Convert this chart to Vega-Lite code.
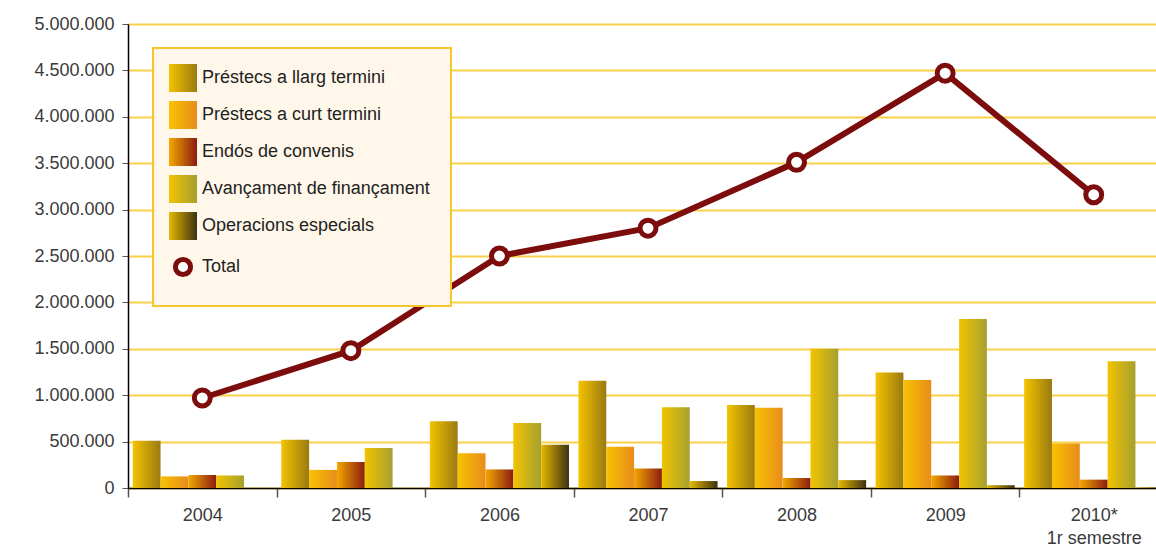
{
  "$schema": "https://vega.github.io/schema/vega-lite/v6.json",
  "width": 1028,
  "height": 464,
  "autosize": "none",
  "padding": {"left": 128, "top": 24, "right": 0, "bottom": 60},
  "background": "white",
  "config": {"view": {"stroke": null}, "font": "Liberation Sans"},
  "data": {"values": [
    {"year": "2004", "serie": "Préstecs a llarg termini", "value": 510000},
    {"year": "2004", "serie": "Préstecs a curt termini", "value": 125000},
    {"year": "2004", "serie": "Endós de convenis", "value": 140000},
    {"year": "2004", "serie": "Avançament de finançament", "value": 135000},
    {"year": "2004", "serie": "Total", "value": 970000},
    {"year": "2005", "serie": "Préstecs a llarg termini", "value": 520000},
    {"year": "2005", "serie": "Préstecs a curt termini", "value": 195000},
    {"year": "2005", "serie": "Endós de convenis", "value": 280000},
    {"year": "2005", "serie": "Avançament de finançament", "value": 430000},
    {"year": "2005", "serie": "Total", "value": 1480000},
    {"year": "2006", "serie": "Préstecs a llarg termini", "value": 720000},
    {"year": "2006", "serie": "Préstecs a curt termini", "value": 375000},
    {"year": "2006", "serie": "Endós de convenis", "value": 200000},
    {"year": "2006", "serie": "Avançament de finançament", "value": 700000},
    {"year": "2006", "serie": "Operacions especials", "value": 465000},
    {"year": "2006", "serie": "Total", "value": 2500000},
    {"year": "2007", "serie": "Préstecs a llarg termini", "value": 1155000},
    {"year": "2007", "serie": "Préstecs a curt termini", "value": 445000},
    {"year": "2007", "serie": "Endós de convenis", "value": 210000},
    {"year": "2007", "serie": "Avançament de finançament", "value": 870000},
    {"year": "2007", "serie": "Operacions especials", "value": 75000},
    {"year": "2007", "serie": "Total", "value": 2800000},
    {"year": "2008", "serie": "Préstecs a llarg termini", "value": 895000},
    {"year": "2008", "serie": "Préstecs a curt termini", "value": 865000},
    {"year": "2008", "serie": "Endós de convenis", "value": 108000},
    {"year": "2008", "serie": "Avançament de finançament", "value": 1500000},
    {"year": "2008", "serie": "Operacions especials", "value": 85000},
    {"year": "2008", "serie": "Total", "value": 3510000},
    {"year": "2009", "serie": "Préstecs a llarg termini", "value": 1245000},
    {"year": "2009", "serie": "Préstecs a curt termini", "value": 1165000},
    {"year": "2009", "serie": "Endós de convenis", "value": 135000},
    {"year": "2009", "serie": "Avançament de finançament", "value": 1820000},
    {"year": "2009", "serie": "Operacions especials", "value": 30000},
    {"year": "2009", "serie": "Total", "value": 4470000},
    {"year": "2010*", "serie": "Préstecs a llarg termini", "value": 1175000},
    {"year": "2010*", "serie": "Préstecs a curt termini", "value": 480000},
    {"year": "2010*", "serie": "Endós de convenis", "value": 90000},
    {"year": "2010*", "serie": "Avançament de finançament", "value": 1365000},
    {"year": "2010*", "serie": "Operacions especials", "value": 5000},
    {"year": "2010*", "serie": "Total", "value": 3160000}
  ]},
  "encoding": {
    "x": {
      "field": "year", "type": "nominal", "title": null,
      "scale": {"range": [0, 1040], "paddingInner": 0, "paddingOuter": 0},
      "axis": {
        "ticks": true, "tickBand": "extent", "tickSize": 9, "tickColor": "#555555", "tickWidth": 1.5,
        "domainColor": "#000000", "domainWidth": 1.5,
        "labelFontSize": 18, "labelColor": "#3a3a3a", "labelPadding": 9,
        "labelAngle": 0, "labelLineHeight": 23,
        "labelExpr": "datum.label == '2010*' ? ['2010*', '1r semestre'] : datum.label"
      }
    },
    "y": {
      "field": "value", "type": "quantitative", "title": null,
      "scale": {"domain": [0, 5000000], "nice": false},
      "axis": {
        "values": [0, 500000, 1000000, 1500000, 2000000, 2500000, 3000000, 3500000, 4000000, 4500000, 5000000],
        "labelExpr": "replace(replace(format(datum.value, ','), ',', '.'), ',', '.')",
        "labelFontSize": 18, "labelColor": "#3a3a3a", "labelPadding": 8,
        "tickSize": 6, "tickColor": "#555555",
        "domainColor": "#000000", "domainWidth": 1.5,
        "grid": true, "gridColor": "#FAD048", "gridWidth": 2
      }
    }
  },
  "layer": [
    {
      "transform": [{"filter": "datum.serie == 'Préstecs a llarg termini'"}],
      "mark": {"type": "bar", "color": {"gradient": "linear", "x1": 0, "y1": 0, "x2": 1, "y2": 0, "stops": [{"offset": 0, "color": "#F4C300"}, {"offset": 1, "color": "#9A7A12"}]}},
      "encoding": {"xOffset": {"field": "serie", "type": "nominal", "scale": {"domain": ["Préstecs a llarg termini", "Préstecs a curt termini", "Endós de convenis", "Avançament de finançament", "Operacions especials"], "paddingInner": 0, "paddingOuter": 0.17}}}
    },
    {
      "transform": [{"filter": "datum.serie == 'Préstecs a curt termini'"}],
      "mark": {"type": "bar", "color": {"gradient": "linear", "x1": 0, "y1": 0, "x2": 1, "y2": 0, "stops": [{"offset": 0, "color": "#F8C200"}, {"offset": 1, "color": "#E88C1C"}]}},
      "encoding": {"xOffset": {"field": "serie", "type": "nominal"}}
    },
    {
      "transform": [{"filter": "datum.serie == 'Endós de convenis'"}],
      "mark": {"type": "bar", "color": {"gradient": "linear", "x1": 0, "y1": 0, "x2": 1, "y2": 0, "stops": [{"offset": 0, "color": "#F2A800"}, {"offset": 1, "color": "#8C1C10"}]}},
      "encoding": {"xOffset": {"field": "serie", "type": "nominal"}}
    },
    {
      "transform": [{"filter": "datum.serie == 'Avançament de finançament'"}],
      "mark": {"type": "bar", "color": {"gradient": "linear", "x1": 0, "y1": 0, "x2": 1, "y2": 0, "stops": [{"offset": 0, "color": "#F2C400"}, {"offset": 1, "color": "#A6A030"}]}},
      "encoding": {"xOffset": {"field": "serie", "type": "nominal"}}
    },
    {
      "transform": [{"filter": "datum.serie == 'Operacions especials'"}],
      "mark": {"type": "bar", "color": {"gradient": "linear", "x1": 0, "y1": 0, "x2": 1, "y2": 0, "stops": [{"offset": 0, "color": "#E6B800"}, {"offset": 1, "color": "#3C3212"}]}},
      "encoding": {"xOffset": {"field": "serie", "type": "nominal"}}
    },
    {
      "transform": [{"filter": "datum.serie == 'Total'"}],
      "mark": {"type": "line", "strokeWidth": 6},
      "encoding": {
        "color": {
          "field": "serie", "type": "nominal", "title": null,
          "scale": {
            "domain": ["Préstecs a llarg termini", "Préstecs a curt termini", "Endós de convenis", "Avançament de finançament", "Operacions especials", "Total"],
            "range": ["#C9A00A", "#F0A810", "#B85A10", "#D2BC18", "#8C7A0C", "#7D0C0C"]
          },
          "legend": {
            "orient": "none", "legendX": 25, "legendY": 24,
            "padding": 21, "rowPadding": 9, "gridAlign": "each",
            "fillColor": "#FFF8EA", "strokeColor": "#F8C62A",
            "symbolSize": 784, "symbolType": "square",
            "labelFontSize": 18, "labelColor": "#222222", "labelOffset": 10, "labelLimit": 400,
            "encode": {
              "legend": {"update": {"strokeWidth": {"value": 2}}},
              "symbols": {
                "update": {
                  "shape": {"signal": "datum.value === 'Total' ? 'circle' : 'square'"},
                  "size": {"signal": "datum.value === 'Total' ? 230 : 784"},
                  "fill": {"signal": "datum.index == 0 ? {gradient: 'linear', x1: 0, y1: 0, x2: 1, y2: 0, stops: [{offset: 0, color: '#F4C300'}, {offset: 1, color: '#9A7A12'}]} : datum.index == 1 ? {gradient: 'linear', x1: 0, y1: 0, x2: 1, y2: 0, stops: [{offset: 0, color: '#F8C200'}, {offset: 1, color: '#E88C1C'}]} : datum.index == 2 ? {gradient: 'linear', x1: 0, y1: 0, x2: 1, y2: 0, stops: [{offset: 0, color: '#F2A800'}, {offset: 1, color: '#8C1C10'}]} : datum.index == 3 ? {gradient: 'linear', x1: 0, y1: 0, x2: 1, y2: 0, stops: [{offset: 0, color: '#F2C400'}, {offset: 1, color: '#A6A030'}]} : datum.index == 4 ? {gradient: 'linear', x1: 0, y1: 0, x2: 1, y2: 0, stops: [{offset: 0, color: '#E6B800'}, {offset: 1, color: '#3C3212'}]} : '#ffffff'"},
                  "stroke": {"signal": "datum.value === 'Total' ? '#7D0C0C' : 'transparent'"},
                  "strokeWidth": {"signal": "datum.value === 'Total' ? 5 : 0"},
                  "opacity": {"value": 1}
                }
              }
            }
          }
        }
      }
    },
    {
      "transform": [{"filter": "datum.serie == 'Total'"}],
      "mark": {"type": "point", "shape": "circle", "size": 254, "fill": "#ffffff", "stroke": "#7D0C0C", "strokeWidth": 5, "opacity": 1, "filled": true}
    }
  ]
}
